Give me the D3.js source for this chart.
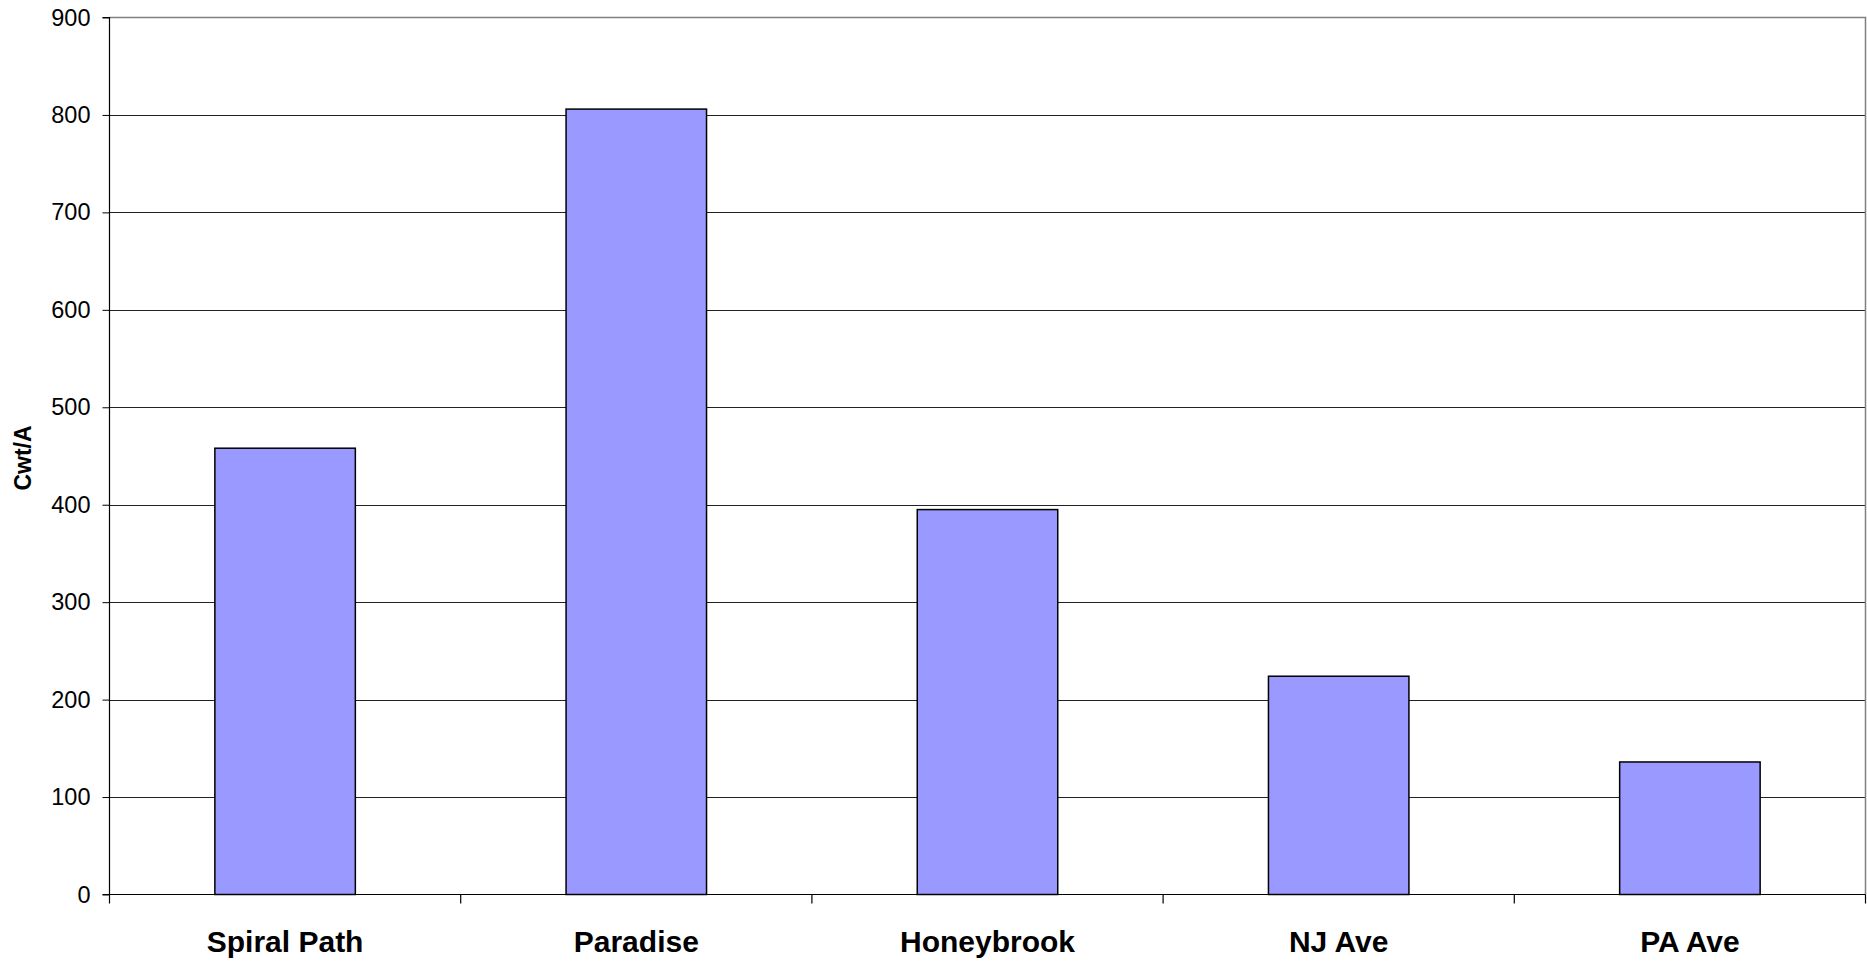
<!DOCTYPE html>
<html>
<head>
<meta charset="utf-8">
<script src="https://cdn.jsdelivr.net/npm/d3@7"></script>
<style>
  html, body { margin: 0; padding: 0; background: #fff; }
  svg { display: block; font-family: Arial, "Liberation Sans", sans-serif; }
</style>
</head>
<body>
<svg id="chart" width="1867" height="962"></svg>
<script>
const categories = ["Spiral Path", "Paradise", "Honeybrook", "NJ Ave", "PA Ave"];
const values = [458, 806, 395, 224, 136];
const yTicks = [0, 100, 200, 300, 400, 500, 600, 700, 800, 900];
const yLabel = "Cwt/A";

(function () {
const svg = d3.select("#chart");
const pL = 109.5, pR = 1865.5, pT = 17.5, pB = 894.5;

const x = d3.scaleBand().domain(categories).range([pL, pR]).paddingInner(0.6).paddingOuter(0.3);
const xOuter = d3.scaleBand().domain(categories).range([pL, pR]);
const y = d3.scaleLinear().domain([0, 900]).range([pB, pT]);

// gridlines
svg.append("g").selectAll("line").data(yTicks.filter(d => d > 0 && d < 900)).join("line")
  .attr("x1", pL).attr("x2", pR)
  .attr("y1", d => Math.round(y(d)) + 0.5).attr("y2", d => Math.round(y(d)) + 0.5)
  .attr("stroke", "#222").attr("stroke-width", 1);

// plot frame (top & right)
svg.append("path")
  .attr("d", `M${pL},${pT}H${pR}V${pB}`)
  .attr("fill", "none").attr("stroke", "#808080").attr("stroke-width", 1.5);

// bars
svg.append("g").selectAll("rect").data(values).join("rect")
  .attr("x", (d, i) => x(categories[i]))
  .attr("width", x.bandwidth())
  .attr("y", d => y(d))
  .attr("height", d => y(0) - y(d))
  .attr("fill", "#9999ff")
  .attr("stroke", "#000").attr("stroke-width", 1.5);

// y axis
const yAxis = d3.axisLeft(y).tickValues(yTicks).tickSize(7).tickPadding(12);
const gy = svg.append("g").attr("transform", `translate(${pL},0)`).call(yAxis);
gy.select(".domain").attr("stroke", "#000").attr("stroke-width", 1.2).attr("d", `M-7,${pB}H0V${pT}H-7`);
gy.selectAll(".tick line").attr("stroke", "#000");
gy.selectAll(".tick text").attr("font-size", 23.5).attr("fill", "#000")
  .attr("font-family", "Arial, 'Liberation Sans', sans-serif");

// x axis
const xAxis = d3.axisBottom(xOuter).tickSize(0).tickPadding(36);
const gx = svg.append("g").attr("transform", `translate(0,${pB})`).call(xAxis);
gx.select(".domain").attr("stroke", "#000").attr("stroke-width", 1.2).attr("d", `M${pL},0H${pR}`);
gx.selectAll(".tick text").attr("font-size", 30).attr("font-weight", "bold").attr("fill", "#000")
  .attr("font-family", "Arial, 'Liberation Sans', sans-serif");
// category boundary ticks
const bounds = categories.map(c => xOuter(c)).concat([pR]);
svg.append("g").selectAll("line").data(bounds).join("line")
  .attr("x1", d => d).attr("x2", d => d)
  .attr("y1", pB).attr("y2", pB + 9)
  .attr("stroke", "#000").attr("stroke-width", 1.2);

// y label
svg.append("text")
  .attr("transform", `translate(31,${(pT + pB) / 2 + 2}) rotate(-90)`)
  .attr("text-anchor", "middle")
  .attr("font-size", 23).attr("font-weight", "bold")
  .text(yLabel);
})();
</script>
</body>
</html>
